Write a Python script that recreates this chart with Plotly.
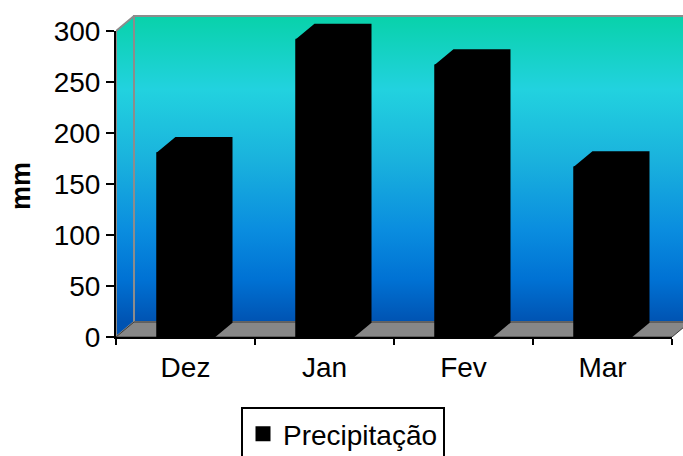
import plotly.graph_objects as go

# Monthly rainfall (mm)
months = ["Dez", "Jan", "Fev", "Mar"]
precip_mm = [180, 291, 266, 166]
y_ticks = [0, 50, 100, 150, 200, 250, 300]
series_name = "Precipitação"
axis_title = "mm"

# pixel layout
W, H = 683, 456
ML, MR, MT, MB = 116, 0, 10, 119
PW, PH = W - ML - MR, H - MT - MB
PX_PER_CAT = 139.0
PX_PER_MM = 1.02

# 3D box geometry, in axis units
EDGE_PX = 3.0                          # black outline around every column
BAR_W = (58 - EDGE_PX) / PX_PER_CAT    # column front width (category units)
DX = 18 / PX_PER_CAT                   # depth shift along x (category units)
DY = 15 / PX_PER_MM                    # depth shift along y (mm)
Y_MAX = 300
X_LO, X_HI = -0.5, len(months) - 0.5

FONT = "Liberation Sans, Arial, sans-serif"
FS = 28

wall_scale = [
    [0.00, "#0053B2"],
    [0.14, "#0072D4"],
    [0.30, "#0A8DDF"],
    [0.53, "#1AB2DD"],
    [0.76, "#22D2DF"],
    [1.00, "#08D2AA"],
]

fig = go.Figure()

# side wall (left)
fig.add_trace(go.Scatter(
    x=[X_LO, X_LO + DX, X_LO + DX, X_LO, X_LO],
    y=[0, DY, Y_MAX + DY, Y_MAX, 0],
    fill="toself", mode="lines",
    line=dict(color="#8C8C8C", width=2),
    fillgradient=dict(type="vertical", colorscale=wall_scale, start=DY, stop=Y_MAX + DY),
    showlegend=False, hoverinfo="skip", xaxis="x", yaxis="y",
))
# back wall
fig.add_trace(go.Scatter(
    x=[X_LO + DX, X_HI + 2 * DX, X_HI + 2 * DX, X_LO + DX, X_LO + DX],
    y=[DY, DY, Y_MAX + DY, Y_MAX + DY, DY],
    fill="toself", mode="lines",
    line=dict(color="#8C8C8C", width=2),
    fillgradient=dict(type="vertical", colorscale=wall_scale, start=DY, stop=Y_MAX + DY),
    showlegend=False, hoverinfo="skip", xaxis="x", yaxis="y",
))
# floor
fig.add_trace(go.Scatter(
    x=[X_LO, X_HI, X_HI + DX, X_LO + DX, X_LO],
    y=[0, 0, DY, DY, 0],
    fill="toself", mode="lines",
    line=dict(color="#3A3A3A", width=1),
    fillcolor="#878787",
    showlegend=False, hoverinfo="skip", xaxis="x", yaxis="y",
))

# depth faces (top + right side) of each column
for i, v in enumerate(precip_mm):
    l, r = i - BAR_W / 2, i + BAR_W / 2
    fig.add_trace(go.Scatter(
        x=[l, r, r + DX, r + DX, l + DX, l, l],
        y=[0, 0, DY, v + DY, v + DY, v, 0],
        fill="toself", mode="lines",
        line=dict(color="black", width=EDGE_PX),
        fillcolor="black",
        showlegend=False, hoverinfo="skip", xaxis="x", yaxis="y",
    ))

# column fronts
fig.add_trace(go.Bar(
    x=months, y=precip_mm, name=series_name, width=BAR_W,
    marker=dict(color="black", line=dict(color="black", width=EDGE_PX)),
    xaxis="x2", yaxis="y2",
))

tick_font = dict(family=FONT, size=FS, color="black")

fig.update_layout(
    width=W, height=H,
    margin=dict(l=ML, r=MR, t=MT, b=MB, autoexpand=False),
    paper_bgcolor="white",
    plot_bgcolor="rgba(0,0,0,0)",
    font=dict(family=FONT, color="black"),
    xaxis=dict(domain=[0, 1], anchor="y", range=[X_LO, X_LO + PW / PX_PER_CAT],
               visible=False, fixedrange=True),
    yaxis=dict(domain=[0, 1], anchor="x", range=[0, PH / PX_PER_MM],
               visible=False, fixedrange=True),
    xaxis2=dict(domain=[0, (X_HI - X_LO) * PX_PER_CAT / PW], anchor="y2",
                type="category", categoryorder="array", categoryarray=months,
                range=[X_LO, X_HI], showline=True, linecolor="black", linewidth=2,
                ticks="outside", tickson="boundaries", ticklen=6, tickwidth=2,
                tickcolor="black", tickfont=tick_font, ticklabelstandoff=4,
                showgrid=False, zeroline=False),
    yaxis2=dict(domain=[0, Y_MAX * PX_PER_MM / PH], anchor="x2",
                range=[0, Y_MAX], tickvals=y_ticks, showline=True,
                linecolor="black", linewidth=2, ticks="outside", ticklen=8,
                tickwidth=2, tickcolor="black", tickfont=tick_font,
                showgrid=False, zeroline=False),
    showlegend=True,
    legend=dict(orientation="h", x=(343 - ML) / PW, xanchor="center",
                y=-(407 - (MT + PH)) / PH, yanchor="top",
                bordercolor="black", borderwidth=2, bgcolor="white",
                font=dict(family=FONT, size=FS, color="black")),
    annotations=[dict(
        text="<b>" + axis_title + "</b>", textangle=-90,
        xref="paper", yref="paper",
        x=(21 - ML) / PW, y=(MT + PH - 186) / PH,
        xanchor="center", yanchor="middle", showarrow=False,
        font=dict(family=FONT, size=27, color="black"),
    )],
)

fig.write_html("out.html")
